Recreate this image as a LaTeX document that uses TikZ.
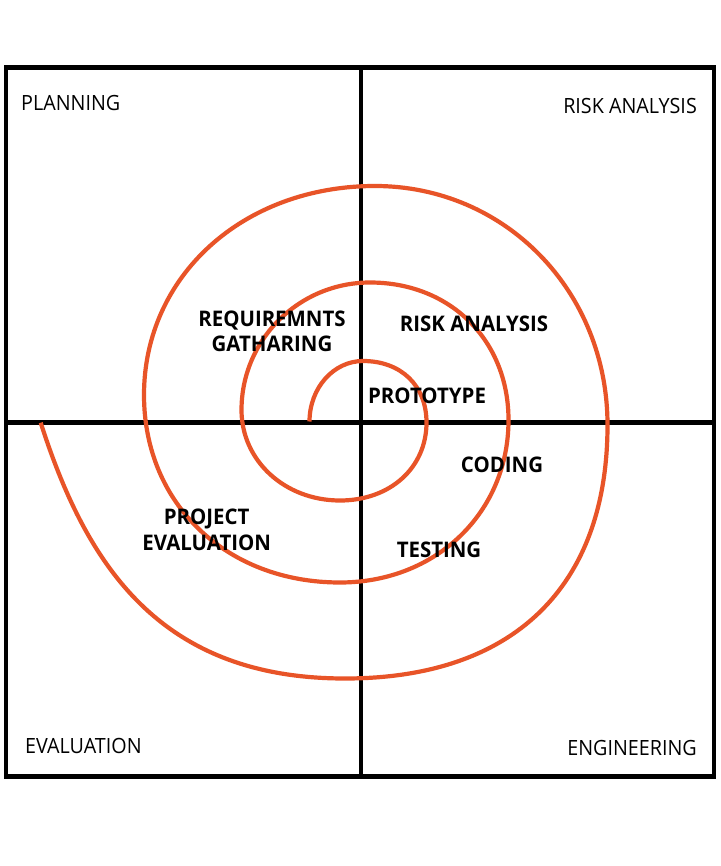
\documentclass[tikz,border=0pt]{standalone}
\usepackage{fontspec}
\setmainfont{Open Sans}
\newfontfamily\cornerfont[FakeStretch=0.94]{Open Sans}
\newfontfamily\phasefont[FakeStretch=0.95]{Open Sans}
\definecolor{spiralorange}{RGB}{232,84,40}
\begin{document}
\begin{tikzpicture}[x=1pt,y=-1pt,
  frameline/.style={line width=4.5pt, black},
  spiralline/.style={line width=4.2pt, spiralorange},
  corner/.style={inner sep=0pt, font=\cornerfont\fontsize{21}{25}\selectfont},
  phase/.style={inner sep=0pt, anchor=base, font=\phasefont\bfseries\fontsize{21.5}{26}\selectfont}]
\useasboundingbox (0,0) rectangle (720,866);
\fill[white] (0,0) rectangle (720,866);
% frame and quadrant cross
\coordinate (tl) at (6,67.7);
\coordinate (br) at (714,776.5);
\coordinate (top) at (361,67.7);
\coordinate (bot) at (361,776.5);
\coordinate (lft) at (6,422.5);
\coordinate (rgt) at (714,422.5);
\draw[frameline] (tl) rectangle (br);
\draw[frameline] (top) -- (bot);
\draw[frameline] (lft) -- (rgt);
% spiral key points
\coordinate (s0) at (309.5,421.5);
\coordinate (t1) at (363,361);
\coordinate (r1) at (426.5,422.5);
\coordinate (b1) at (340,500.5);
\coordinate (l2) at (241.5,410);
\coordinate (t2) at (370,282.5);
\coordinate (r2) at (508.5,420);
\coordinate (b2) at (340,582.5);
\coordinate (l3) at (144,395);
\coordinate (t3) at (375,186);
\coordinate (r3) at (607.5,425);
\coordinate (b3) at (345,678.5);
\coordinate (e0) at (40.7,422.7);
\draw[spiralline] (s0)
  .. controls (309.5,388.1) and (333.5,361) .. (t1)
  .. controls (401.1,361) and (426.5,385.6) .. (r1)
  .. controls (426.5,467.7) and (390.2,500.5) .. (b1)
  .. controls (284.8,500.5) and (241.5,460.7) .. (l2)
  .. controls (241.5,339.6) and (299,282.5) .. (t2)
  .. controls (450.3,282.5) and (508.5,340.25) .. (r2)
  .. controls (508.5,512.6) and (436,582.5) .. (b2)
  .. controls (226.3,582.5) and (144,503.75) .. (l3)
  .. controls (144,275.9) and (243.3,186) .. (t3)
  .. controls (505.2,186) and (607.5,291.2) .. (r3)
  .. controls (607.5,587.2) and (513,678.5) .. (b3)
  .. controls (160,678.5) and (86.5,565.5) .. (e0);
% quadrant titles
\node[corner, anchor=base west] (planning) at (21,111) {PLANNING};
\node[corner, anchor=base east] (riskq) at (697,114) {RISK ANALYSIS};
\node[corner, anchor=base west] (evalq) at (25,753) {EVALUATION};
\node[corner, anchor=base east] (engq) at (697,755) {ENGINEERING};
% phase labels
\node[phase] (req1) at (272,326) {REQUIREMNTS};
\node[phase] (req2) at (272,351.7) {GATHARING};
\node[phase] (risk) at (474,331.7) {RISK ANALYSIS};
\node[phase] (proto) at (427,403) {PROTOTYPE};
\node[phase] (coding) at (502,472) {CODING};
\node[phase] (testing) at (439,557) {TESTING};
\node[phase] (proj1) at (206.7,524) {PROJECT};
\node[phase] (proj2) at (206.7,550) {EVALUATION};
\end{tikzpicture}
\end{document}
